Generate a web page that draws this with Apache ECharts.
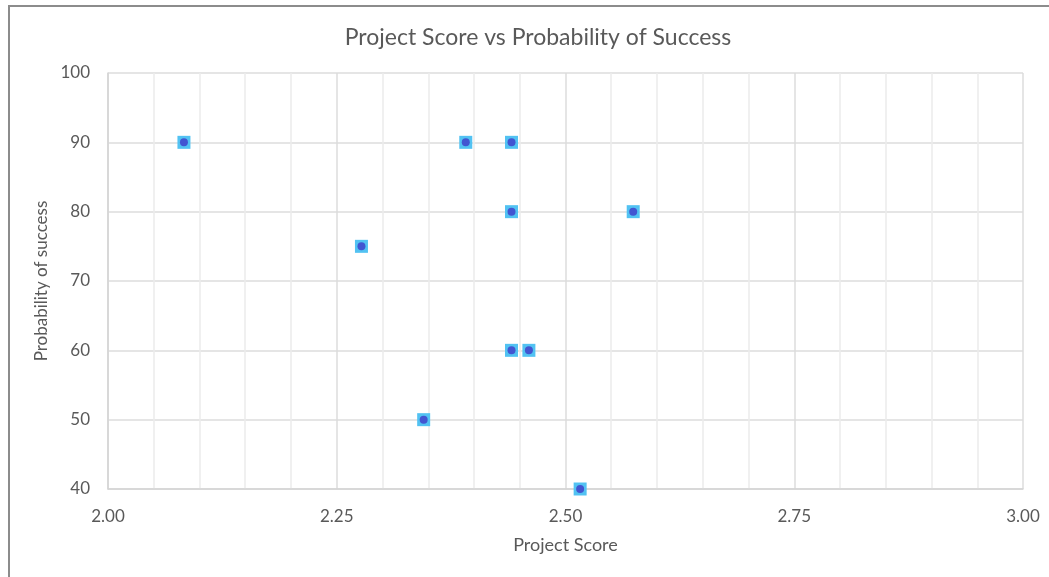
<!DOCTYPE html>
<html>
<head>
<meta charset="utf-8">
<script src="https://cdn.jsdelivr.net/npm/echarts@6/dist/echarts.min.js"></script>
<style>
  html, body { margin: 0; padding: 0; background: #fff; }
  #frame { position: absolute; left: 8px; top: 5px; width: 1100px; height: 640px;
           border-top: 2px solid #8c8c8c; border-left: 2px solid #8c8c8c; box-sizing: border-box; }
  #chart { position: absolute; left: 0; top: 0; width: 1049px; height: 577px; }
</style>
</head>
<body>
<div id="frame"></div>
<div id="chart"></div>
<script>
// Project scores (x) and probability of success (y)
const projectScore = [2.083, 2.277, 2.345, 2.391, 2.441, 2.441, 2.441, 2.460, 2.516, 2.574];
const successProb  = [90, 75, 50, 90, 90, 80, 60, 60, 40, 80];
const xTicks = [2.00, 2.25, 2.50, 2.75, 3.00];
const yTicks = [40, 50, 60, 70, 80, 90, 100];

const points = projectScore.map((x, i) => [x, successProb[i]]);
const font = 'Lato, "Open Sans", sans-serif';
const textColor = '#595959';

const chart = echarts.init(document.getElementById('chart'));
chart.setOption({
  animation: false,
  title: {
    text: 'Project Score vs Probability of Success',
    left: 533, top: 21, textAlign: 'center',
    textStyle: { fontFamily: font, fontSize: 23, fontWeight: 'normal', color: textColor }
  },
  grid: { left: 108, right: 26, top: 73, bottom: 88 },
  xAxis: {
    type: 'value',
    min: xTicks[0], max: xTicks[xTicks.length - 1], interval: 0.25,
    name: 'Project Score', nameLocation: 'middle', nameGap: 47,
    nameTextStyle: { fontFamily: font, fontSize: 18, color: textColor },
    axisLine: { show: true, lineStyle: { color: '#d4d4d4', width: 1.5 } },
    axisTick: { show: false },
    axisLabel: { fontFamily: font, fontSize: 17, color: textColor, margin: 19,
                 formatter: v => v.toFixed(2) },
    splitLine: { show: true, lineStyle: { color: '#dcdcdc', width: 1.5 } },
    minorTick: { show: false, splitNumber: 5 },
    minorSplitLine: { show: true, lineStyle: { color: '#ececec', width: 1.5 } }
  },
  yAxis: {
    type: 'value',
    min: yTicks[0], max: yTicks[yTicks.length - 1], interval: 10,
    name: 'Probability of success', nameLocation: 'middle', nameGap: 57,
    nameTextStyle: { fontFamily: font, fontSize: 17, color: textColor },
    axisLine: { show: true, lineStyle: { color: '#d4d4d4', width: 1.5 } },
    axisTick: { show: false },
    axisLabel: { fontFamily: font, fontSize: 17, color: textColor, margin: 18 },
    splitLine: { show: true, lineStyle: { color: '#dcdcdc', width: 1.5 } }
  },
  series: [
    {
      type: 'scatter', data: points, symbol: 'rect', symbolSize: 13,
      itemStyle: { color: '#52c2f2', opacity: 1 }, z: 3
    },
    {
      type: 'scatter', data: points, symbol: 'circle', symbolSize: 8,
      itemStyle: { color: '#4255d1', opacity: 1 }, z: 4
    }
  ]
});
</script>
</body>
</html>
